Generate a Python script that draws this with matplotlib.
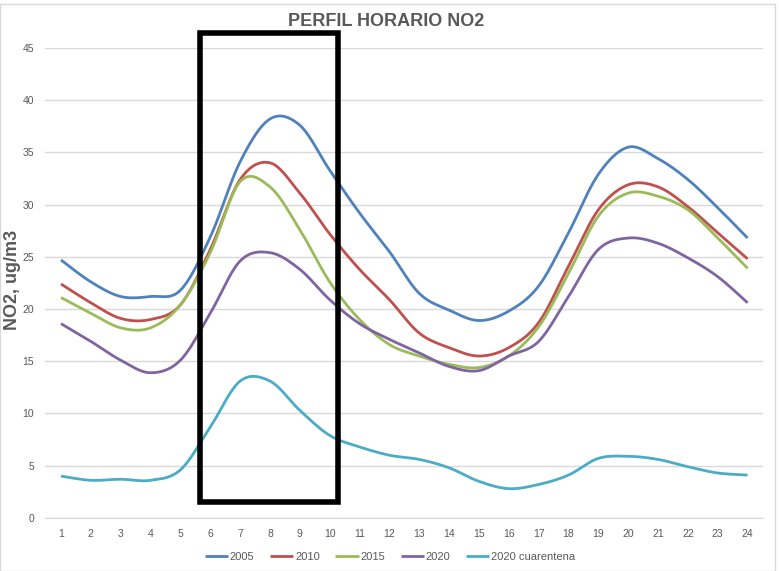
#----------Perfil horario NO2----------
#Hourly NO2 profile for several years, smooth lines like the spreadsheet chart

import matplotlib.pyplot as plt
import matplotlib.patches as patches
import numpy as np

plt.rcParams['font.family'] = ['Liberation Sans', 'DejaVu Sans']

Hours = list(range(1, 25))

NO2_2005 = [24.7, 22.6, 21.2, 21.2, 21.8, 26.9, 34.1, 38.2, 37.6, 33.3, 29.2, 25.5,
            21.5, 19.9, 18.9, 19.8, 22.2, 27.3, 32.9, 35.5, 34.4, 32.4, 29.7, 26.8]
NO2_2010 = [22.4, 20.6, 19.1, 19.0, 20.4, 25.7, 32.4, 34.0, 31.1, 27.2, 23.8, 20.9,
            17.7, 16.3, 15.5, 16.3, 18.7, 24.1, 29.5, 31.9, 31.7, 29.8, 27.3, 24.8]
NO2_2015 = [21.1, 19.6, 18.2, 18.2, 20.4, 25.4, 32.2, 31.7, 27.6, 22.6, 19.0, 16.6,
            15.5, 14.7, 14.4, 15.5, 18.3, 23.4, 28.9, 31.1, 30.8, 29.5, 26.8, 23.9]
NO2_2020 = [18.6, 16.9, 15.1, 13.9, 15.1, 19.6, 24.6, 25.4, 23.8, 20.9, 18.6, 17.1,
            15.8, 14.5, 14.1, 15.5, 16.9, 21.2, 25.7, 26.8, 26.3, 24.9, 23.1, 20.6]
NO2_2020Q = [4.0, 3.6, 3.7, 3.6, 4.6, 8.7, 13.1, 13.1, 10.3, 7.9, 6.8, 6.0,
             5.6, 4.8, 3.5, 2.8, 3.2, 4.1, 5.7, 5.9, 5.6, 4.9, 4.3, 4.1]

Labels = ["2005", "2010", "2015", "2020", "2020 cuarentena"]
Colours = ["#4F81BD", "#C0504D", "#9BBB59", "#8064A2", "#4BACC6"]

TextGrey = "#595959"
GridGrey = "#D9D9D9"


def Smooth(X, Y, N=20):
    """Bezier smoothing of a polyline (same look as a spreadsheet 'smoothed line')"""
    X = np.asarray(X, float)
    Y = np.asarray(Y, float)
    Px = np.concatenate([[X[0]], X, [X[-1]]])
    Py = np.concatenate([[Y[0]], Y, [Y[-1]]])
    t = np.linspace(0, 1, N)
    OutX, OutY = [], []
    for i in range(1, len(Px) - 2):
        x0, x1, x2, x3 = Px[i-1], Px[i], Px[i+1], Px[i+2]
        y0, y1, y2, y3 = Py[i-1], Py[i], Py[i+1], Py[i+2]
        c1x, c1y = x1 + (x2 - x0) / 6, y1 + (y2 - y0) / 6
        c2x, c2y = x2 - (x3 - x1) / 6, y2 - (y3 - y1) / 6
        bx = (1-t)**3*x1 + 3*(1-t)**2*t*c1x + 3*(1-t)*t**2*c2x + t**3*x2
        by = (1-t)**3*y1 + 3*(1-t)**2*t*c1y + 3*(1-t)*t**2*c2y + t**3*y2
        OutX.extend(bx)
        OutY.extend(by)
    return OutX, OutY


fig = plt.figure(figsize=(7.79, 5.71), dpi=100)
ax = fig.add_axes([0.058, 0.093, 0.922, 0.823])

for Series, Lab, Col in zip([NO2_2005, NO2_2010, NO2_2015, NO2_2020, NO2_2020Q], Labels, Colours):
    sx, sy = Smooth(Hours, Series)
    ax.plot(sx, sy, color=Col, lw=2.0, label=Lab, solid_capstyle='butt')

ax.set_xlim(0.47, 24.53)
ax.set_ylim(0, 45)
ax.set_xticks(Hours)
ax.set_yticks(range(0, 46, 5))
ax.tick_params(length=0, labelsize=7.5, colors=TextGrey, pad=8)
ax.grid(axis='y', color=GridGrey, lw=1)
ax.set_axisbelow(True)
for s in ["top", "right", "left"]:
    ax.spines[s].set_visible(False)
ax.spines["bottom"].set_color(GridGrey)

#Y axis title placed in figure coords so it is not clipped
fig.text(13/779, 1 - 280/571, "NO2, ug/m3", rotation=90, ha='center', va='center',
         fontsize=13, fontweight='bold', color=TextGrey)

fig.text(386/779, 1 - 22/571, "PERFIL HORARIO NO2", ha='center', va='center',
         fontsize=13, fontweight='bold', color=TextGrey)

#Highlight box for the morning peak
ax.add_patch(patches.Rectangle((5.66, 1.5), 4.63, 44.9, fill=False, edgecolor='black',
                               lw=4, clip_on=False, zorder=5))

ax.legend(loc='lower center', bbox_to_anchor=(0.48, -0.115), ncol=5, frameon=False,
          fontsize=8, handlelength=2.1, handletextpad=0.15, columnspacing=1.4,
          labelcolor=TextGrey)

#Light chart border
fig.add_artist(patches.Rectangle((0, 0), 775/779, 1 - 4/571, transform=fig.transFigure,
                                 fill=False, edgecolor="#D9D9D9", lw=1))

fig.savefig("out.png", dpi=100)
